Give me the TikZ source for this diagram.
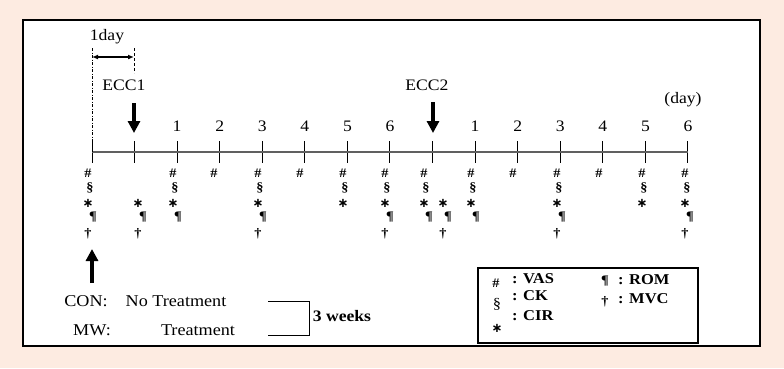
\documentclass[tikz,border=0pt]{standalone}
\usepackage{fontspec}
\setmainfont{Liberation Serif}[FakeStretch=1.1]
\newfontfamily\astfont{DejaVu Sans}
\usetikzlibrary{arrows.meta}
\definecolor{peach}{HTML}{FDEBE1}
\newcommand\symb[1]{\ifcase#1\or\#\or\S\or{\astfont\bfseries ∗}\or\P\or\dag\fi}

\begin{document}
\begin{tikzpicture}[x=1pt,y=-1pt,every node/.style={inner sep=0pt},
    lbl/.style={font=\fontsize{16}{16}\selectfont},
    grp/.style={font=\fontsize{16.5}{16.5}\selectfont},
    sym/.style={font=\bfseries\fontsize{13}{13}\selectfont},
    legend/.style={font=\bfseries\fontsize{15}{15}\selectfont,anchor=west},
    bigarrow/.style={-{Triangle[width=12pt,length=12pt]},line width=3.5pt}]

    \fill[peach] (0,0) rectangle (784,368);
    \draw[fill=white,line width=1.3pt] (23,20) rectangle (760,346);

    % Time axis with one tick per day
    \foreach \n in {0,...,14} {
      \pgfmathsetmacro\x{92+\n*42.57}
      \coordinate (t\n)  at (\x,152);
      \coordinate (tt\n) at (\x,141);
      \coordinate (tb\n) at (\x,163);
      \draw[line width=1pt] (tt\n) -- (tb\n);
    }
    \draw[gray!75!black,line width=1.6pt] (t0) -- (t14);

    % Day numbers after each ECC
    \foreach \n in {1,...,6} {
      \pgfmathsetmacro\xa{92+(\n+1)*42.57}
      \pgfmathsetmacro\xb{92+(\n+8)*42.57}
      \node[lbl] (da\n) at (\xa,126) {\n};
      \node[lbl] (db\n) at (\xb,126) {\n};
    }
    \node[lbl] (unit) at (683,100) {(day)};

    % Measurements under the axis
    \foreach \x/\rows in {91/{1,2,3,4,5},141/{3,4,5},176/{1,2,3,4},217/{1},
        261/{1,2,3,4,5},303/{1},346/{1,2,3},388/{1,2,3,4,5},427/{1,2,3,4},
        446/{3,4,5},474/{1,2,3,4},516/{1},560/{1,2,3,4,5},602/{1},
        645/{1,2,3},688/{1,2,3,4,5}} {
      \foreach \r in \rows {
        \pgfmathsetmacro\y{{173,188,203,217,234}[\r-1]}
        \pgfmathsetmacro\dx{{-3,-1,-3,2,-3}[\r-1]}
        \node[sym] (s\x-\r) at (\x+\dx,\y) {\symb{\r}};
      }
    }

    % ECC sessions
    \node[lbl] (ecc1) at (124,85) {ECC1};
    \node[lbl] (ecc2) at (427,85) {ECC2};
    \coordinate (e1) at (134,103);
    \coordinate (e1tip) at (134,133);
    \coordinate (e2) at (433,102);
    \coordinate (e2tip) at (433,133);
    \draw[bigarrow] (e1) -- (e1tip);
    \draw[bigarrow] (e2) -- (e2tip);

    % One day span
    \node[lbl] (oneday) at (107,37) {1day};
    \coordinate (d0) at (92,57);
    \coordinate (d1) at (134,57);
    \coordinate (dl) at (92,48);
    \coordinate (dr) at (134,48);
    \coordinate (drb) at (134,73);
    \draw[{Latex[length=6pt,width=5pt]}-{Latex[length=6pt,width=5pt]},line width=1.3pt] (d0) -- (d1);
    \draw[dash pattern=on 3pt off 1.5pt on 1pt off 1.5pt] (dl) -- (t0);
    \draw[densely dashed] (dr) -- (drb);

    % Start of the study
    \coordinate (st) at (92,283);
    \coordinate (sttip) at (92,249);
    \draw[bigarrow] (st) -- (sttip);

    % Groups
    \node[grp] (con)  at (86,301)  {CON:};
    \node[grp] (notr) at (176,301) {No Treatment};
    \node[grp] (mw)   at (92,330)  {MW:};
    \node[grp] (tr)   at (198,330) {Treatment};
    \coordinate (b1) at (268,301);
    \coordinate (b2) at (309,335);
    \coordinate (b3) at (268,335);
    \draw (b1) -| (b2) -- (b3);
    \node[font=\bfseries\fontsize{16}{16}\selectfont] (weeks) at (342,316) {3 weeks};

    % Legend
    \draw[line width=1.2pt] (478,268) rectangle (698,343);
    \node[sym] (lg1) at (496,283) {\symb{1}};
    \node[font=\fontsize{15}{15}\selectfont] (lg2) at (497,304) {\S};
    \node[sym] (lg3) at (497,328) {\symb{3}};
    \node[sym] (lg4) at (605,281) {\symb{4}};
    \node[sym] (lg5) at (605,302) {\symb{5}};
    \node[legend] (vas) at (512,279) {: VAS};
    \node[legend] (ck)  at (512,296) {: CK};
    \node[legend] (cir) at (512,316) {: CIR};
    \node[legend] (rom) at (618,280) {: ROM};
    \node[legend] (mvc) at (618,299) {: MVC};

  \end{tikzpicture}
\end{document}
